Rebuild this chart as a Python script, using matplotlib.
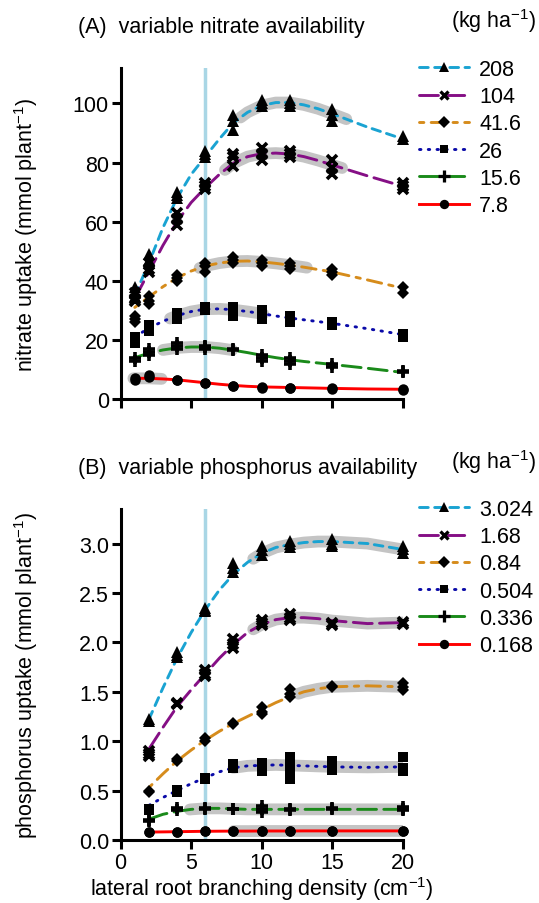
import numpy as np
import matplotlib
matplotlib.use("Agg")
import matplotlib.pyplot as plt
from matplotlib.lines import Line2D

plt.rcParams['font.family'] = ['Liberation Sans', 'DejaVu Sans']
plt.rcParams['mathtext.default'] = 'regular'

# -------------------------------
# DATA (A) nitrate
# -------------------------------
NIT_X = [1, 2, 4, 6, 8, 10, 12, 15, 20]
NIT_LABELS = ["208", "104", "41.6", "26", "15.6", "7.8"]

nit_208 = [[38, 36, 35], [49, 47, 46], [70, 69, 68], [84, 83, 82], [96, 94, 91],
           [101, 100, 99], [101, 100, 99], [98, 96, 94], [89, 88]]
nit_104 = [[36, 34, 33], [46, 44, 43], [63, 61, 59], [73, 72, 71], [83, 82, 79],
           [85, 83, 81], [84, 83, 82], [81, 78, 76], [73, 72, 71]]
nit_41 = [[28, 27, 26], [35, 33, 32], [42, 41, 40], [46, 45, 43], [48, 47, 46],
          [47, 46, 45], [46, 45, 44], [44, 43, 42], [38, 36]]
nit_26 = [[21, 20, 19], [25, 24, 23], [29, 28, 27], [31, 30, 30], [31, 29, 28],
          [30, 28, 27], [28, 27, 26], [26, 25], [22, 21]]
nit_15 = [[14, 13], [17, 16, 15], [19, 18, 17], [18, 17.5, 17], [17, 16.5],
          [15, 14, 13], [14, 13, 12], [12, 11], [9.5, 9]]
nit_7 = [[7, 6.5], [8, 7.5], [6.5, 6.4], [5.5, 5.3], [4.5, 4.3], [4, 3.8],
         [3.8, 3.7], [3.6, 3.5], [3.3, 3.2]]

# fitted curves
NIT_FIT_X = [1, 2, 3, 4, 5, 6, 7, 8, 9, 10, 11, 12, 13, 14, 15, 17.5, 20]
fit_208 = [35, 46, 58, 68, 76, 82, 88, 93.5, 97, 99.3, 100.3, 100.3, 99.5, 98.2, 96.5, 92, 88]
fit_104 = [34, 43, 52, 60, 66.5, 71.5, 76, 79.8, 82, 83, 83.2, 82.9, 82, 80.7, 79.2, 75.5, 72]
fit_41 = [31, 34.5, 38, 41, 43.3, 45, 46, 46.6, 46.7, 46.4, 45.9, 45.3, 44.6, 43.8, 43, 40.3, 37.5]
fit_26 = [21, 24, 26.3, 28.2, 29.6, 30.4, 30.5, 30.2, 29.6, 28.9, 28.1, 27.4, 26.8, 26.2, 25.6, 23.8, 21.8]
fit_15 = [14, 15.5, 16.6, 17.3, 17.6, 17.6, 17.2, 16.5, 15.7, 14.8, 14, 13.3, 12.7, 12.2, 11.7, 10.4, 9]
fit_7 = [7, 7, 6.8, 6.5, 6, 5.5, 5, 4.6, 4.3, 4.1, 4, 3.9, 3.8, 3.7, 3.6, 3.4, 3.3]

# grey highlighted ranges (x from, x to)
nit_bands = [(8.5, 16), (7.4, 15.7), (5.6, 13.2), (3.5, 10.1), (3.0, 7.9), (0.9, 2.9)]

# -------------------------------
# DATA (B) phosphorus
# -------------------------------
P_X = [2, 4, 6, 8, 10, 12, 15, 20]
P_LABELS = ["3.024", "1.68", "0.84", "0.504", "0.336", "0.168"]

p_3 = [[1.22, 1.20], [1.90, 1.87, 1.85], [2.35, 2.33, 2.32], [2.80, 2.75, 2.71],
       [2.98, 2.93, 2.88], [3.03, 3.0, 2.96], [3.05, 3.0, 2.97], [2.98, 2.94, 2.90]]
p_168 = [[0.9, 0.87, 0.85], [1.39, 1.38], [1.72, 1.68, 1.66], [2.03, 1.98, 1.94],
         [2.23, 2.2, 2.18], [2.29, 2.25, 2.23], [2.2, 2.18], [2.21, 2.19]]
p_084 = [[0.5, 0.49], [0.82, 0.8], [1.03, 1.0], [1.18, 1.17], [1.35, 1.3, 1.27],
         [1.53, 1.48, 1.45], [1.56, 1.55], [1.59, 1.55, 1.52]]
p_0504 = [[0.31, 0.3], [0.51, 0.49], [0.63, 0.62], [0.77, 0.75, 0.73], [0.78, 0.74, 0.7],
          [0.84, 0.79, 0.72, 0.62], [0.8, 0.74, 0.71], [0.84, 0.73, 0.7]]
p_0336 = [[0.2, 0.19], [0.32, 0.3], [0.32, 0.31], [0.31, 0.31], [0.34, 0.31, 0.28],
          [0.31, 0.3], [0.32, 0.31], [0.33, 0.31, 0.3]]
p_0168 = [[0.08, 0.08], [0.08, 0.085], [0.09, 0.088], [0.09, 0.09], [0.09, 0.095],
          [0.09, 0.092], [0.095, 0.093], [0.095, 0.092]]

P_FIT_X = [2, 3, 4, 5, 6, 7, 8, 9, 10, 11, 12, 13, 14, 15, 17.5, 20]
pfit_3 = [1.22, 1.54, 1.84, 2.1, 2.33, 2.53, 2.69, 2.81, 2.9, 2.96, 2.99, 3.01, 3.02, 3.02, 3.0, 2.94]
pfit_168 = [0.92, 1.14, 1.35, 1.52, 1.68, 1.84, 1.98, 2.1, 2.18, 2.23, 2.25, 2.25, 2.24, 2.22, 2.19, 2.2]
pfit_084 = [0.53, 0.67, 0.8, 0.91, 1.01, 1.1, 1.18, 1.25, 1.32, 1.39, 1.45, 1.5, 1.53, 1.55, 1.56, 1.55]
pfit_0504 = [0.35, 0.43, 0.5, 0.57, 0.63, 0.69, 0.73, 0.75, 0.755, 0.76, 0.755, 0.75, 0.745, 0.74, 0.735, 0.74]
pfit_0336 = [0.21, 0.26, 0.29, 0.31, 0.32, 0.32, 0.315, 0.31, 0.31, 0.31, 0.31, 0.31, 0.31, 0.31, 0.31, 0.31]
pfit_0168 = [0.08, 0.082, 0.084, 0.086, 0.088, 0.089, 0.09, 0.09, 0.091, 0.091, 0.091, 0.092, 0.092, 0.092, 0.092, 0.092]

p_bands = [(9.4, 20), (9.4, 20), (12.6, 20), (8.0, 20), (4.9, 20), (8.0, 20)]

# -------------------------------
# STYLES
# -------------------------------
COLORS = ['#1aa3d2', '#850f85', '#d68c1c', '#0a0aa8', '#1a8a1a', '#ff0000']
DASHES = [(0, (3, 2.2)), (0, (6.5, 2.5)), (0, (1.5, 2.5, 5, 2.5)), (0, (0.5, 2.5)),
          (0, (6.5, 2.5)), '-']
MARKERS = [('^', 8, 0), ('x', 6.5, 2.6), ('D', 6.5, 0), ('s', 6.5, 0), ('+', 9, 2.6), ('o', 7.5, 0)]


def draw_panel(ax, x, reps, fit_x, fits, bands):
    # grey highlighted stretch of the fitted curve
    for fy, (lo, hi) in zip(fits, bands):
        bx = [lo] + [v for v in fit_x if lo < v < hi] + [hi]
        by = np.interp(bx, fit_x, fy)
        ax.plot(bx, by, color='#c4c4c4', lw=8.5, solid_capstyle='round', zorder=1)
    ax.axvline(6, color='#a9d6e5', lw=2.5, zorder=2)
    for fy, c, ls in zip(fits, COLORS, DASHES):
        ax.plot(fit_x, fy, color=c, ls=ls, lw=2.1, dash_capstyle='round',
                solid_capstyle='round', zorder=3)
    for r, (m, ms, mew) in zip(reps, MARKERS):
        for xi, vals in zip(x, r):
            ax.plot([xi] * len(vals), vals, ls='none', marker=m, ms=ms, mew=mew,
                    color='k', clip_on=False, zorder=4)
    handles = [Line2D([], [], color=c, ls=ls, lw=2.1, dash_capstyle='round',
                      marker=m, ms=ms * 0.9, mew=mew * 0.9, mfc='k', mec='k')
               for c, ls, (m, ms, mew) in zip(COLORS, DASHES, MARKERS)]
    return handles


fig = plt.figure(figsize=(5.39, 9.04), dpi=100)
ax1 = fig.add_axes([0.2239, 0.5575, 0.5232, 0.3662])
ax2 = fig.add_axes([0.2239, 0.0697, 0.5232, 0.3662])

h1 = draw_panel(ax1, NIT_X, [nit_208, nit_104, nit_41, nit_26, nit_15, nit_7], NIT_FIT_X,
                [fit_208, fit_104, fit_41, fit_26, fit_15, fit_7], nit_bands)
h2 = draw_panel(ax2, P_X, [p_3, p_168, p_084, p_0504, p_0336, p_0168], P_FIT_X,
                [pfit_3, pfit_168, pfit_084, pfit_0504, pfit_0336, pfit_0168], p_bands)

FS = 15.5
for ax in (ax1, ax2):
    ax.set_xlim(0, 20)
    ax.set_xticks([0, 5, 10, 15, 20])
    for s in ('top', 'right'):
        ax.spines[s].set_visible(False)
    for s in ('left', 'bottom'):
        ax.spines[s].set_linewidth(2.2)
    ax.tick_params(width=2.2, length=6.5, labelsize=FS, pad=2)

ax1.set_ylim(0, 112)
ax1.set_yticks([0, 20, 40, 60, 80, 100])
ax1.set_xticklabels([])
ax2.set_ylim(0, 3.35)
ax2.set_yticks([0, 0.5, 1.0, 1.5, 2.0, 2.5, 3.0])
ax2.set_yticklabels(['0.0', '0.5', '1.0', '1.5', '2.0', '2.5', '3.0'])

ax1.set_ylabel('nitrate uptake (mmol plant$^{-1}$)', fontsize=FS)
ax2.set_ylabel('phosphorus uptake (mmol plant$^{-1}$)', fontsize=FS)
ax2.set_xlabel('lateral root branching density (cm$^{-1}$)', fontsize=FS, labelpad=1)
ax1.yaxis.set_label_coords(-0.285, 0.5)
ax2.yaxis.set_label_coords(-0.285, 0.5)

fig.text(78 / 539, 1 - 27 / 904, '(A)  variable nitrate availability', fontsize=FS, va='center')
fig.text(78 / 539, 1 - 469 / 904, '(B)  variable phosphorus availability', fontsize=FS, va='center')
fig.text(451 / 539, 1 - 21 / 904, '(kg ha$^{-1}$)', fontsize=FS, va='center')
fig.text(451 / 539, 1 - 462 / 904, '(kg ha$^{-1}$)', fontsize=FS, va='center')

for ax, h, lab, ytop in ((ax1, h1, NIT_LABELS, 60), (ax2, h2, P_LABELS, 500)):
    ax.legend(h, lab, loc='upper left', bbox_to_anchor=(419 / 539, 1 - ytop / 904),
              bbox_transform=fig.transFigure, frameon=False, fontsize=FS,
              handlelength=2.3, handletextpad=0.5, labelspacing=0.29,
              borderpad=0, borderaxespad=0)

fig.savefig('out.png', dpi=100)
